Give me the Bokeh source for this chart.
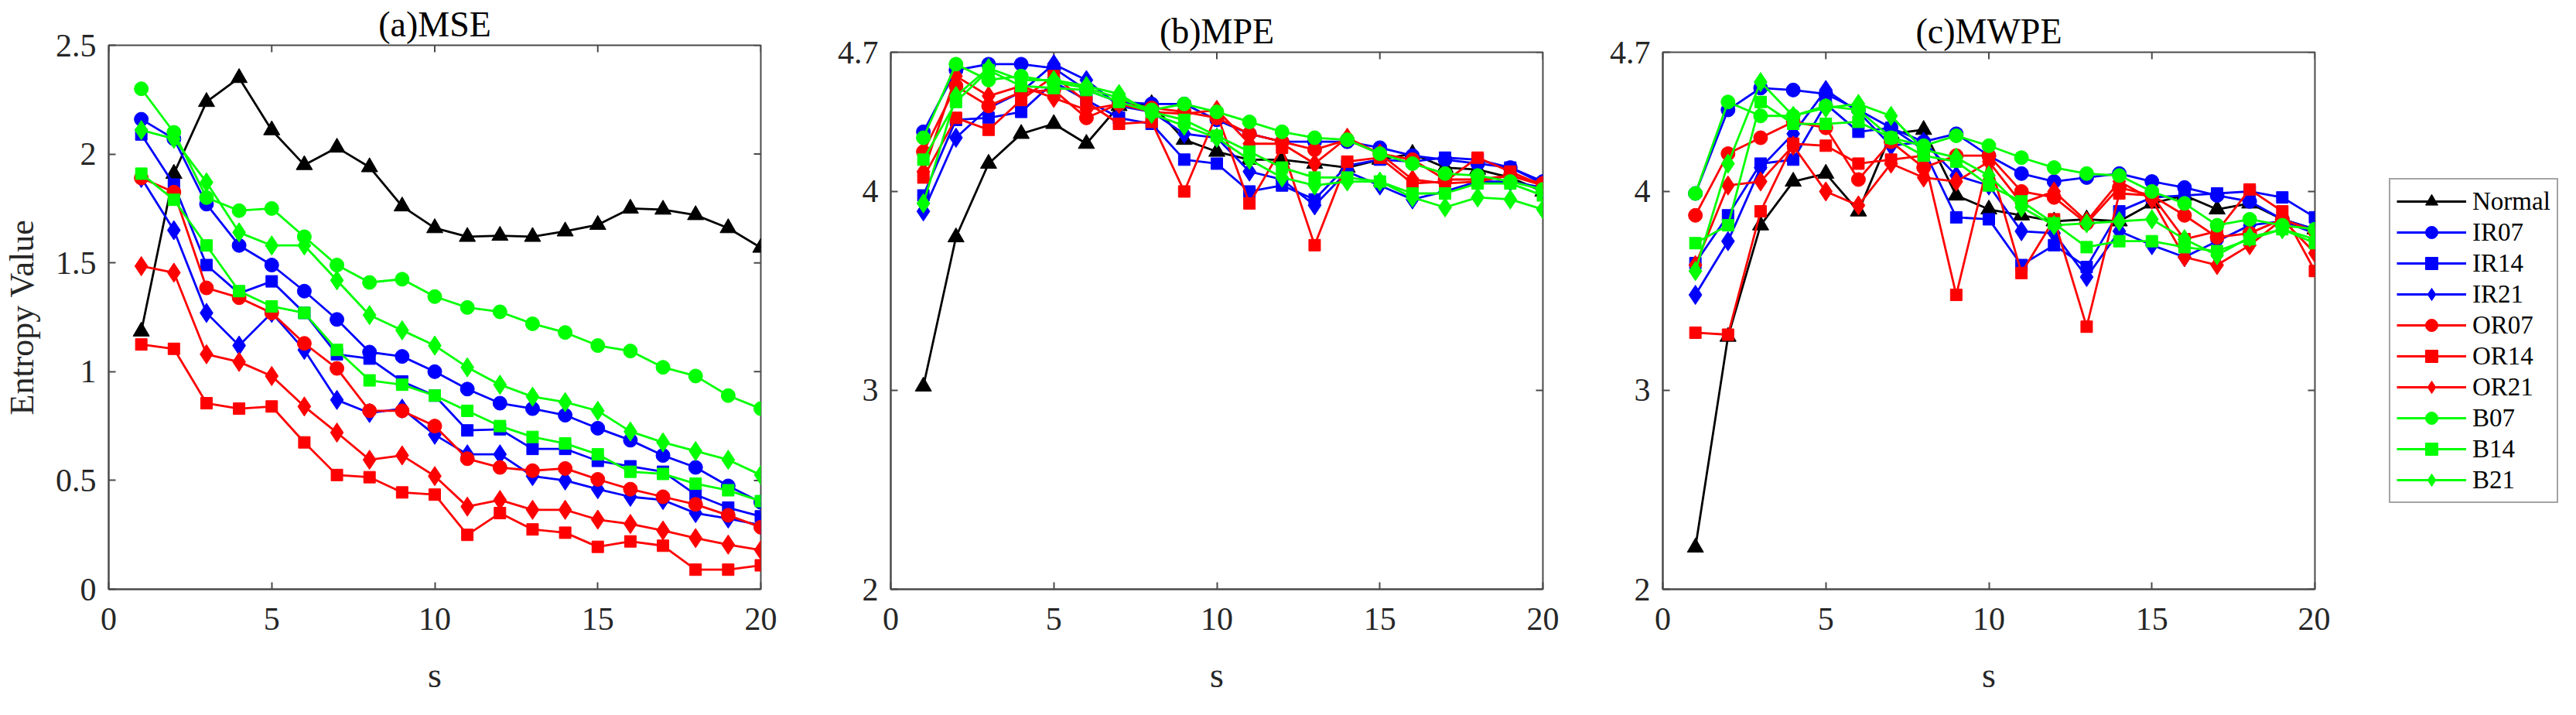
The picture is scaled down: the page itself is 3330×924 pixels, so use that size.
import math
from bokeh.plotting import figure
from bokeh.models import FixedTicker, PrintfTickFormatter, Legend, LegendItem, Range1d
from bokeh.layouts import row
from bokeh.embed import file_html
from bokeh.resources import INLINE

s = list(range(1, 21))
series_names = ["Normal", "IR07", "IR14", "IR21", "OR07", "OR14", "OR21", "B07", "B14", "B21"]
series_colors = ["#000000", "#0000FF", "#0000FF", "#0000FF", "#FF0000", "#FF0000", "#FF0000",
                 "#00FF00", "#00FF00", "#00FF00"]
series_markers = ["triangle", "circle", "square", "diamond", "circle", "square", "diamond",
                  "circle", "square", "diamond"]

# (a) MSE
mse_normal = [1.185, 1.91, 2.24, 2.35, 2.11, 1.95, 2.03, 1.94, 1.76, 1.66, 1.62, 1.625, 1.62, 1.645, 1.675, 1.75, 1.745, 1.72, 1.66, 1.57]
mse_ir07 = [2.16, 2.07, 1.77, 1.58, 1.49, 1.37, 1.24, 1.09, 1.07, 1.0, 0.92, 0.855, 0.83, 0.80, 0.74, 0.685, 0.615, 0.56, 0.475, 0.40]
mse_ir14 = [2.09, 1.86, 1.49, 1.36, 1.415, 1.27, 1.08, 1.06, 0.955, 0.89, 0.73, 0.735, 0.645, 0.645, 0.59, 0.565, 0.54, 0.435, 0.375, 0.335]
mse_ir21 = [1.89, 1.65, 1.27, 1.12, 1.27, 1.10, 0.87, 0.81, 0.83, 0.71, 0.62, 0.62, 0.52, 0.50, 0.46, 0.425, 0.41, 0.35, 0.325, 0.295]
mse_or07 = [1.89, 1.825, 1.385, 1.34, 1.27, 1.13, 1.015, 0.82, 0.82, 0.75, 0.60, 0.56, 0.545, 0.555, 0.505, 0.46, 0.425, 0.39, 0.34, 0.285]
mse_or14 = [1.125, 1.105, 0.855, 0.83, 0.84, 0.675, 0.525, 0.515, 0.445, 0.435, 0.25, 0.35, 0.275, 0.26, 0.195, 0.22, 0.20, 0.09, 0.09, 0.11]
mse_or21 = [1.485, 1.455, 1.08, 1.045, 0.98, 0.84, 0.72, 0.595, 0.615, 0.52, 0.38, 0.41, 0.365, 0.365, 0.32, 0.30, 0.27, 0.235, 0.205, 0.18]
mse_b07 = [2.30, 2.10, 1.80, 1.74, 1.75, 1.62, 1.49, 1.41, 1.425, 1.345, 1.295, 1.275, 1.22, 1.18, 1.12, 1.095, 1.02, 0.98, 0.89, 0.83]
mse_b14 = [1.91, 1.79, 1.58, 1.37, 1.30, 1.27, 1.10, 0.96, 0.94, 0.89, 0.82, 0.75, 0.70, 0.67, 0.62, 0.54, 0.53, 0.485, 0.455, 0.405]
mse_b21 = [2.11, 2.07, 1.87, 1.64, 1.58, 1.58, 1.42, 1.26, 1.19, 1.12, 1.02, 0.94, 0.885, 0.86, 0.82, 0.725, 0.675, 0.635, 0.595, 0.525]

# (b) MPE
mpe_normal = [3.02, 3.77, 4.14, 4.29, 4.34, 4.24, 4.43, 4.44, 4.26, 4.20, 4.16, 4.16, 4.14, 4.12, 4.16, 4.19, 4.12, 4.11, 4.07, 4.0]
mpe_ir07 = [4.30, 4.61, 4.64, 4.64, 4.62, 4.51, 4.45, 4.44, 4.44, 4.36, 4.29, 4.25, 4.25, 4.25, 4.22, 4.18, 4.16, 4.14, 4.12, 4.05]
mpe_ir14 = [3.98, 4.36, 4.37, 4.40, 4.55, 4.46, 4.37, 4.34, 4.16, 4.14, 4.0, 4.03, 3.96, 4.13, 4.16, 4.15, 4.17, 4.16, 4.12, 4.04]
mpe_ir21 = [3.90, 4.27, 4.42, 4.50, 4.64, 4.56, 4.43, 4.40, 4.29, 4.27, 4.10, 4.06, 3.93, 4.10, 4.03, 3.96, 4.0, 4.05, 4.05, 4.02]
mpe_or07 = [4.20, 4.53, 4.43, 4.50, 4.51, 4.37, 4.44, 4.42, 4.40, 4.37, 4.29, 4.25, 4.21, 4.26, 4.19, 4.16, 4.06, 4.06, 4.08, 4.04]
mpe_or14 = [4.07, 4.37, 4.31, 4.46, 4.58, 4.45, 4.34, 4.35, 4.0, 4.39, 3.94, 4.22, 3.73, 4.15, 4.17, 4.04, 4.05, 4.17, 4.10, 4.03]
mpe_or21 = [4.10, 4.58, 4.48, 4.53, 4.47, 4.41, 4.44, 4.40, 4.39, 4.41, 4.24, 4.24, 4.14, 4.27, 4.19, 4.06, 4.04, 4.05, 4.08, 4.03]
mpe_b07 = [4.27, 4.64, 4.56, 4.58, 4.55, 4.52, 4.47, 4.41, 4.44, 4.40, 4.35, 4.30, 4.27, 4.26, 4.19, 4.14, 4.09, 4.08, 4.05, 4.01]
mpe_b14 = [4.16, 4.45, 4.61, 4.53, 4.52, 4.51, 4.45, 4.40, 4.36, 4.28, 4.20, 4.12, 4.07, 4.07, 4.05, 3.99, 3.99, 4.04, 4.04, 3.98]
mpe_b21 = [3.94, 4.48, 4.62, 4.56, 4.56, 4.53, 4.49, 4.39, 4.33, 4.27, 4.16, 4.07, 4.03, 4.05, 4.05, 3.97, 3.92, 3.97, 3.96, 3.91]

# (c) MWPE
mwpe_normal = [2.21, 3.27, 3.83, 4.05, 4.09, 3.90, 4.29, 4.31, 3.98, 3.91, 3.88, 3.85, 3.86, 3.85, 3.94, 3.98, 3.91, 3.94, 3.86, 3.81]
mwpe_ir07 = [3.99, 4.41, 4.52, 4.51, 4.49, 4.41, 4.32, 4.25, 4.29, 4.18, 4.09, 4.05, 4.07, 4.09, 4.05, 4.02, 3.98, 3.95, 3.86, 3.81]
mwpe_ir14 = [3.64, 3.88, 4.14, 4.16, 4.44, 4.30, 4.32, 4.21, 3.87, 3.86, 3.63, 3.73, 3.62, 3.90, 3.97, 3.98, 3.99, 4.0, 3.97, 3.87]
mwpe_ir21 = [3.48, 3.75, 4.12, 4.29, 4.51, 4.40, 4.23, 4.25, 4.08, 4.03, 3.80, 3.79, 3.57, 3.80, 3.73, 3.67, 3.75, 3.83, 3.85, 3.79]
mwpe_or07 = [3.88, 4.19, 4.27, 4.35, 4.32, 4.06, 4.25, 4.12, 4.18, 4.18, 4.0, 3.97, 3.84, 4.02, 3.98, 3.88, 3.77, 3.79, 3.86, 3.80]
mwpe_or14 = [3.29, 3.28, 3.90, 4.24, 4.23, 4.14, 4.16, 4.18, 3.48, 4.16, 3.59, 3.86, 3.32, 3.99, 3.98, 3.76, 3.80, 4.01, 3.90, 3.60]
mwpe_or21 = [3.63, 4.03, 4.05, 4.23, 4.0, 3.93, 4.14, 4.07, 4.05, 4.15, 3.94, 4.0, 3.85, 4.05, 3.96, 3.67, 3.63, 3.73, 3.86, 3.69]
mwpe_b07 = [3.99, 4.45, 4.38, 4.38, 4.43, 4.41, 4.27, 4.23, 4.28, 4.23, 4.17, 4.12, 4.09, 4.08, 4.0, 3.94, 3.83, 3.86, 3.83, 3.81]
mwpe_b14 = [3.74, 3.83, 4.45, 4.34, 4.34, 4.35, 4.27, 4.18, 4.15, 4.03, 3.95, 3.84, 3.72, 3.75, 3.75, 3.72, 3.70, 3.76, 3.81, 3.74]
mwpe_b21 = [3.60, 4.14, 4.55, 4.38, 4.42, 4.44, 4.38, 4.21, 4.17, 4.08, 3.92, 3.83, 3.84, 3.85, 3.86, 3.76, 3.68, 3.77, 3.81, 3.76]

mse_data = [mse_normal, mse_ir07, mse_ir14, mse_ir21, mse_or07, mse_or14, mse_or21, mse_b07, mse_b14, mse_b21]
mpe_data = [mpe_normal, mpe_ir07, mpe_ir14, mpe_ir21, mpe_or07, mpe_or14, mpe_or21, mpe_b07, mpe_b14, mpe_b21]
mwpe_data = [mwpe_normal, mwpe_ir07, mwpe_ir14, mwpe_ir21, mwpe_or07, mwpe_or14, mwpe_or21, mwpe_b07, mwpe_b14, mwpe_b21]

x_ticks = [0, 5, 10, 15, 20]
mse_yticks = [0, 0.5, 1, 1.5, 2, 2.5]
pe_yticks = [2, 3, 4, 4.7]

FONT = "Liberation Serif"
AX_COLOR = "#4a4a4a"
TXT_COLOR = "#262626"
marker_sizes = {"triangle": 21, "circle": 18, "square": 15, "diamond": 25}


def style_axis(ax, ticks):
    ax.ticker = FixedTicker(ticks=ticks)
    ax.formatter = PrintfTickFormatter(format="%g")
    ax.axis_line_color = AX_COLOR
    ax.axis_line_width = 2
    ax.major_tick_line_color = AX_COLOR
    ax.major_tick_line_width = 2
    ax.major_tick_in = 9
    ax.major_tick_out = 0
    ax.minor_tick_line_color = None
    ax.major_label_text_font = FONT
    ax.major_label_text_color = TXT_COLOR
    ax.major_label_text_font_size = "42px"
    ax.axis_label_text_font = FONT
    ax.axis_label_text_font_style = "normal"
    ax.axis_label_text_color = TXT_COLOR


def add_series(p, data):
    rends = []
    for name, color, marker, ys in zip(series_names, series_colors, series_markers, data):
        ln = p.line(s, ys, line_color=color, line_width=2.8)
        sc = p.scatter(s, ys, marker=marker, size=marker_sizes[marker],
                       fill_color=color, line_color=color)
        rends.append((name, [ln, sc]))
    return rends


def make_panel(width, bl, br, bt, ymin, ymax, yticks, title, data, ylabel=None):
    p = figure(width=width, height=900, x_range=Range1d(0, 20), y_range=Range1d(ymin, ymax),
               output_backend="svg", toolbar_location=None, title=title,
               min_border_left=bl, min_border_right=br, min_border_top=bt, min_border_bottom=138)
    p.frame_align = False
    p.grid.visible = False
    p.outline_line_color = AX_COLOR
    p.outline_line_width = 2
    p.background_fill_color = "white"
    p.border_fill_color = "white"
    p.title.text_font = FONT
    p.title.text_font_size = "46px"
    p.title.text_font_style = "normal"
    p.title.text_color = "#000000"
    p.title.align = "center"
    p.title.standoff = 4

    style_axis(p.xaxis[0], x_ticks)
    p.xaxis[0].major_label_standoff = 24
    p.xaxis[0].axis_label = "s"
    p.xaxis[0].axis_label_text_font_size = "46px"
    p.xaxis[0].axis_label_standoff = 30
    style_axis(p.yaxis[0], yticks)
    p.yaxis[0].major_label_standoff = 16
    if ylabel:
        p.yaxis[0].axis_label = ylabel
        p.yaxis[0].axis_label_text_font_size = "44px"
        p.yaxis[0].axis_label_standoff = 16

    # inward tick marks on the top and right edges of the box (half clipped by the frame)
    xr_end = p.x_range.end
    yr_end = p.y_range.end
    p.scatter(x_ticks, [yr_end] * len(x_ticks), marker="dash", angle=math.pi / 2, size=18,
              line_color=AX_COLOR, line_width=2)
    p.scatter([xr_end] * len(yticks), yticks, marker="dash", size=18,
              line_color=AX_COLOR, line_width=2)

    add_series(p, data)
    return p


pa = make_panel(1067, 140, 84, 58, 0, 2.5, mse_yticks, "(a)MSE", mse_data, ylabel="Entropy Value")
pb = make_panel(1005, 84, 78, 67, 2, 4.7, pe_yticks, "(b)MPE", mpe_data)
pc = make_panel(940, 77, 20, 67, 2, 4.7, pe_yticks, "(c)MWPE", mwpe_data)

# legend panel to the right of (c); its series sit outside its empty view range,
# so only the legend (line + marker per series) is visible
pl = figure(width=302, height=900, x_range=Range1d(0, 20), y_range=Range1d(10, 11),
            x_axis_type=None, y_axis_type=None, output_backend="svg", toolbar_location=None,
            min_border=0, outline_line_color=None)
pl.frame_align = False
pl.grid.visible = False
leg_rends = add_series(pl, mwpe_data)

legend = Legend(items=[LegendItem(label=n, renderers=r) for n, r in leg_rends],
                location=(76, 250))
legend.label_text_font = FONT
legend.label_text_font_size = "33px"
legend.label_text_color = "#000000"
legend.glyph_width = 90
legend.glyph_height = 40
legend.label_height = 40
legend.spacing = 0
legend.padding = 8
legend.label_standoff = 8
legend.margin = 0
legend.border_line_color = AX_COLOR
legend.border_line_width = 2
legend.background_fill_color = "white"
legend.background_fill_alpha = 1.0
pl.add_layout(legend, "center")

layout = row(pa, pb, pc, pl, spacing=0)
open("out.html", "w").write(file_html(layout, INLINE))
